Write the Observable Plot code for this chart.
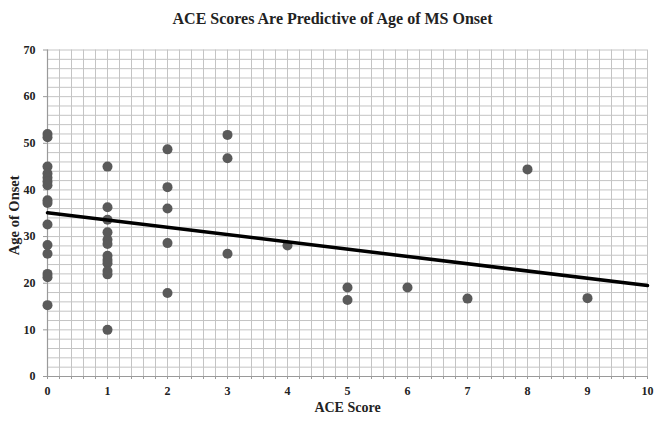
<!DOCTYPE html>
<html>
<head>
<meta charset="utf-8">
<script src="https://cdn.jsdelivr.net/npm/d3@7"></script>
<script src="https://cdn.jsdelivr.net/npm/@observablehq/plot@0.6"></script>
<style>
  html, body { margin: 0; padding: 0; background: #fff; }
  #title { height: 38px; line-height: 38px; text-align: center; font-family: "Liberation Serif", serif; font-weight: bold; font-size: 16px; color: #222; padding-left: 4px; }
  #chart svg { display: block; }
</style>
</head>
<body>
<div id="title">ACE Scores Are Predictive of Age of MS Onset</div>
<div id="chart"></div>
<script>
// ACE score (x) and age of MS onset (y) for each participant
const aceScores = [
  0,0,0,0,0,0,0,0,0,0,0,0,0,0,0,
  1,1,1,1,1,1,1,1,1,1,1,1,
  2,2,2,2,2,
  3,3,3,
  4,
  5,5,
  6,
  7,
  8,
  9
];
const onsetAges = [
  52.0,51.3,45.0,43.5,42.6,41.8,41.0,37.8,37.2,32.6,28.2,26.3,22.0,21.3,15.3,
  45.0,36.3,33.6,30.9,29.3,28.4,25.9,25.0,24.3,22.6,21.9,10.0,
  48.7,40.6,36.0,28.6,17.9,
  51.8,46.8,26.3,
  28.1,
  19.1,16.4,
  19.1,
  16.7,
  44.4,
  16.8
];
// linear trend line endpoints
const trendX = [0, 10];
const trendY = [35.1, 19.5];

const xTicks = [0,1,2,3,4,5,6,7,8,9,10];
const yTicks = [0,10,20,30,40,50,60,70];
const xMinor = d3.range(0, 51).map(i => i / 5);
const yMinor = d3.range(0, 36).map(i => i * 2);

const points = aceScores.map((x, i) => ({x, y: onsetAges[i]}));
const trend = trendX.map((x, i) => ({x, y: trendY[i]}));

const font = "Liberation Serif, serif";
const gridColor = "#c4c4c4";
const axisColor = "#9a9a9a";

const chart = Plot.plot({
  width: 661,
  height: 384,
  marginTop: 11.5,
  marginBottom: 46,
  marginLeft: 47,
  marginRight: 14,
  style: {fontFamily: font, fontWeight: "bold", fontSize: "12px", color: "#222", background: "#fff"},
  x: {domain: [0, 10]},
  y: {domain: [0, 70]},
  marks: [
    Plot.ruleX(xMinor, {stroke: gridColor, strokeWidth: 1}),
    Plot.ruleY(yMinor, {stroke: gridColor, strokeWidth: 1}),
    Plot.axisX({ticks: xMinor, tickSize: 3, tickFormat: () => "", stroke: axisColor, label: null}),
    Plot.axisX({ticks: xTicks, tickSize: 3, tickPadding: 7, stroke: axisColor, label: null, fontWeight: "bold", fill: "#222"}),
    Plot.axisY({ticks: yTicks, tickSize: 4, tickPadding: 8, stroke: axisColor, label: null, fontWeight: "bold", fill: "#222"}),
    Plot.ruleY([0], {stroke: axisColor, strokeWidth: 1.2}),
    Plot.ruleX([0], {stroke: axisColor, strokeWidth: 1.2}),
    Plot.dot(points, {x: "x", y: "y", r: 5, fill: "#5a5a5a", stroke: "none"}),
    Plot.line(trend, {x: "x", y: "y", stroke: "#000", strokeWidth: 3.5}),
    Plot.text(["Age of Onset"], {frameAnchor: "left", textAnchor: "middle", rotate: -90, dx: -33, dy: 2, fontSize: 14.5, fontWeight: "bold", fill: "#222"}),
    Plot.text(["ACE Score"], {frameAnchor: "bottom", dy: 35, fontSize: 14, fontWeight: "bold", fill: "#222"})
  ]
});
document.getElementById("chart").append(chart);
</script>
</body>
</html>
